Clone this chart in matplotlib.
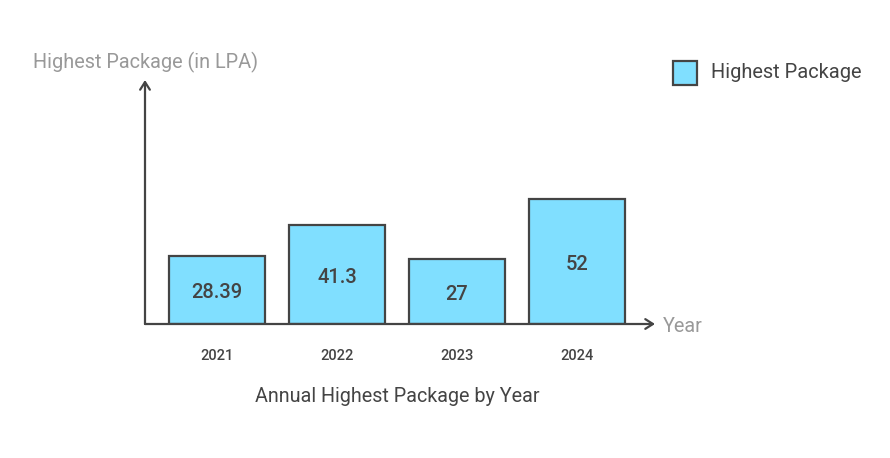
import matplotlib
matplotlib.use('Agg')
import matplotlib.pyplot as plt
from matplotlib.patches import Rectangle

plt.rcParams['font.family'] = ['Roboto', 'DejaVu Sans']

years = ['2021', '2022', '2023', '2024']
packages = [28.39, 41.3, 27, 52]
value_labels = ['28.39', '41.3', '27', '52']

dark = '#444444'
grey = '#999999'
fill = '#80dfff'

W, H = 890, 458
fig = plt.figure(figsize=(W / 100, H / 100), dpi=100)

# axes box: y axis at x=145px, baseline at y=324px, arrow tips at 655px / 80px
ax = fig.add_axes([145 / W, (H - 324) / H, (655 - 145) / W, (324 - 80) / H])
ax.set_xlim(-0.6, 3.65)
ax.set_ylim(0, (324 - 80) / 2.4)
ax.axis('off')

x = range(len(years))
ax.bar(x, packages, width=0.8, color=fill, edgecolor=dark, linewidth=1.6, zorder=2)

for i, v in enumerate(packages):
    ax.text(i, v / 2 - 3 / 2.4, value_labels[i], ha='center', va='center',
            fontsize=14.5, color=dark, fontweight='medium', zorder=3)
    ax.text(i, -32 / 2.4, years[i], ha='center', va='center',
            fontsize=10.5, color=dark, fontweight='medium', clip_on=False)

# axis lines with open arrow heads
arrow = dict(arrowstyle='->,head_length=0.55,head_width=0.35', color=dark,
             lw=1.6, shrinkA=0, shrinkB=0)
ax.annotate('', xy=(1, 0), xytext=(0, 0), xycoords='axes fraction', arrowprops=arrow)
ax.annotate('', xy=(0, 1), xytext=(0, 0), xycoords='axes fraction', arrowprops=arrow)

fig.text(663 / W, 1 - 326 / H, 'Year', ha='left', va='center', fontsize=14.3, color=grey)
fig.text(33 / W, 1 - 62 / H, 'Highest Package (in LPA)', ha='left', va='center',
         fontsize=14.3, color=grey)
fig.text(397 / W, 1 - 397 / H, 'Annual Highest Package by Year', ha='center',
         va='center', fontsize=14.2, color=dark)

# legend
fig.patches.append(Rectangle((673 / W, 1 - 85 / H), 24 / W, 24 / H, transform=fig.transFigure,
                             facecolor=fill, edgecolor=dark, linewidth=1.6))
fig.text(711 / W, 1 - 73 / H, 'Highest Package', ha='left', va='center',
         fontsize=14.4, color=dark)

fig.savefig('out.png', dpi=100)
